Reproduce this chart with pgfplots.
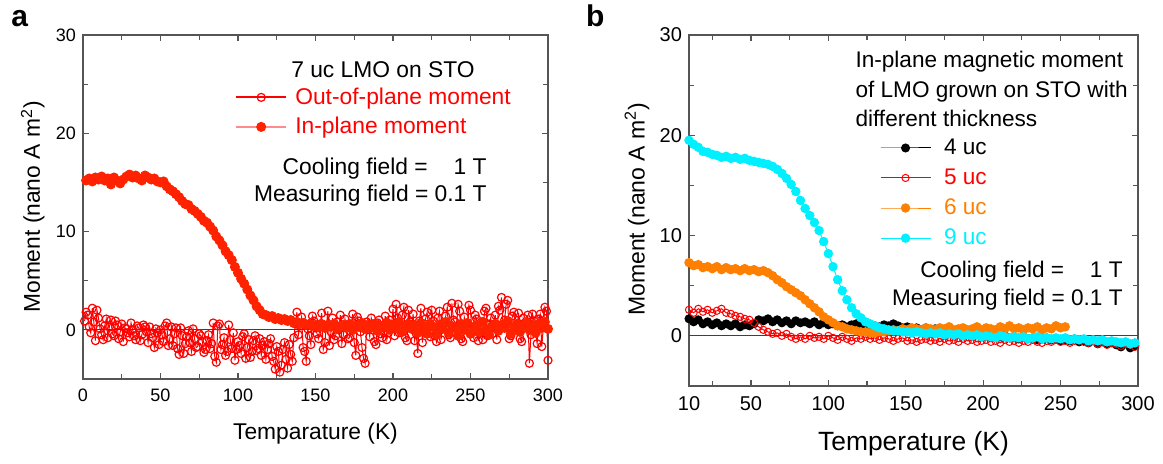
\documentclass[border=0pt]{standalone}
\usepackage{fontspec}
\setmainfont{Liberation Sans}
\usepackage{pgfplots}
\pgfplotsset{compat=1.18}
\definecolor{lred}{RGB}{255,0,0}
\definecolor{fred}{RGB}{255,34,0}
\definecolor{lorange}{RGB}{255,128,0}
\definecolor{lcyan}{RGB}{0,240,255}
\definecolor{axgray}{RGB}{85,85,85}

\pgfplotsset{
 myaxis/.style={
  scale only axis,
  axis line style={axgray, line width=0.9pt},
  tick style={axgray, line width=0.6pt},
  tick align=inside,
  major tick length=3pt,
  minor tick length=2.5pt,
  /pgf/number format/assume math mode=true,
  ymin=-5, ymax=30, ytick={0,10,20,30}, minor ytick={5,15,25},
  xticklabel style={yshift=-1.5pt},
  legend cell align=left,
  legend image code/.code={\draw[mark repeat=2,mark phase=2,##1] plot coordinates {(0cm,0cm) (0.44cm,0cm) (0.88cm,0cm)};},
 }
}

\begin{document}
\begin{tikzpicture}
\path[use as bounding box] (0,0) rectangle (581.5pt,232pt);
\node[anchor=base west, inner sep=0pt, font=\bfseries\fontsize{15}{15}\selectfont] at (5.5pt,218.5pt) {a};
\node[anchor=base west, inner sep=0pt, font=\bfseries\fontsize{15}{15}\selectfont] at (292.8pt,218.5pt) {b};

%%%%%%%%%%%%%%%% Panel a
\begin{axis}[myaxis, at={(41.5pt,42.5pt)}, anchor=south west, width=232.5pt, height=172pt,
 xmin=0, xmax=300, xtick={0,50,...,300}, minor xtick={25,75,...,275},
 ticklabel style={font=\fontsize{9}{10}\selectfont},
 xlabel={Temparature (K)}, ylabel={Moment (nano A m\textsuperscript{2})},
 label style={font=\fontsize{11.4}{13}\selectfont},
 xlabel style={at={(axis description cs:0.5,-0.160)}, anchor=center},
 ylabel style={at={(axis description cs:-0.108,0.5)}, anchor=center},
 legend style={at={(rel axis cs:0.327,0.847)}, anchor=north west, draw=none, fill=none,
   inner sep=0pt, outer sep=0pt, font=\fontsize{11.4}{13}\selectfont,
   row sep=5pt, column sep=4pt, nodes={inner sep=0pt},
   column 2/.style={text height=9.7pt, text depth=1.5pt}},
]
\addplot[lred, draw=lred, line width=0.5pt, mark=o, mark size=2pt, mark options={lred, line width=0.6pt, fill=none},
  legend image post style={line width=1.1pt}]
table {
1 0.9
2 1.8
3 1.5
4 0.3
5 -0.3
6 2.2
7 0.8
8 -1.1
9 2.0
10 1.2
11 0.1
12 -0.5
13 -1.0
14 0.4
15 1.1
16 -0.8
17 0.3
18 1.0
19 -0.4
20 -0.6
21 0.9
22 0.5
23 -0.9
24 -0.2
25 0.6
26 -1.2
27 0.2
28 0.1
29 -0.3
30 -0.7
31 0.7
32 0.0
33 -0.6
34 -1.0
35 0.4
36 0.2
37 -1.1
38 -0.5
39 0.5
40 0.3
41 -0.2
42 -1.3
43 0.3
44 -0.4
45 -0.8
46 -1.8
47 0.1
48 -0.3
49 -1.5
50 0.0
51 -0.5
52 -1.2
53 0.4
54 0.7
55 -1.6
56 -0.9
57 0.3
58 -1.6
59 -0.4
60 0.2
61 -1.9
62 -2.5
63 0.2
64 -0.6
65 -2.4
66 -1.4
67 -0.7
68 -0.1
69 -1.3
70 -2.2
71 0.1
72 -0.9
73 -1.8
74 -1.7
75 -0.4
76 -0.6
77 -1.2
78 -2.3
79 -2.0
80 -1.1
81 -0.5
82 -1.9
83 -1.4
84 0.7
85 -2.7
86 -3.3
87 0.4
88 0.6
89 -2.0
90 -1.5
91 -0.8
92 -2.6
93 -2.2
94 0.5
95 -1.0
96 -1.9
97 -0.3
98 -3.1
99 -2.0
100 -1.2
101 -1.6
102 -2.4
103 -0.7
104 -0.4
105 -2.9
106 -1.8
107 -1.0
108 -2.8
109 -2.2
110 -1.1
111 -0.6
112 -2.1
113 -1.9
114 -0.9
115 -2.6
116 -1.6
117 -1.2
118 -3.0
119 -2.0
120 -1.4
121 -0.9
122 -2.7
123 -3.2
124 -4.0
125 -1.7
126 -2.2
127 -4.3
128 -3.6
129 -2.0
130 -1.3
131 -3.0
132 -3.9
133 -1.5
134 -2.5
135 -3.2
136 -0.8
137 0.6
138 1.8
139 -0.5
140 0.4
141 1.3
142 -1.8
143 -2.2
144 -3.2
145 0.1
146 -0.6
147 -1.5
148 1.4
149 0.9
150 0.2
151 -0.4
152 -0.9
153 0.6
154 1.7
155 -2.0
156 -1.3
157 0.4
158 1.9
159 -1.6
160 -0.2
161 1.2
162 -1.0
163 -0.6
164 0.8
165 0.0
166 1.5
167 -1.4
168 -0.5
169 1.1
170 0.3
171 -0.9
172 -0.8
173 0.5
174 1.6
175 -1.3
176 -2.6
177 1.3
178 0.9
179 -0.2
180 -1.8
181 -2.9
182 -3.4
183 0.8
184 0.5
185 -0.7
186 1.2
187 0.6
188 -1.2
189 -1.5
190 0.7
191 1.0
192 -0.4
193 -0.8
194 0.2
195 1.4
196 -1.0
197 -0.3
198 1.0
199 0.5
200 2.1
201 -0.6
202 2.6
203 1.2
204 -0.3
205 0.1
206 1.5
207 2.3
208 -0.8
209 -1.1
210 2.0
211 0.8
212 0.4
213 1.6
214 -1.1
215 -0.4
216 -2.4
217 0.9
218 2.2
219 -1.3
220 0.6
221 1.1
222 1.8
223 0.2
224 -0.7
225 2.0
226 0.9
227 -0.6
228 -1.2
229 1.2
230 1.9
231 -1.0
232 0.3
233 0.7
234 1.4
235 2.3
236 -0.5
237 -0.8
238 2.7
239 1.0
240 0.8
241 0.3
242 2.6
243 1.9
244 -0.9
245 -1.2
246 1.3
247 0.6
248 0.0
249 2.5
250 2.0
251 -0.3
252 -0.8
253 1.5
254 1.1
255 -1.1
256 0.4
257 0.8
258 -1.0
259 1.9
260 2.2
261 -0.6
262 0.6
263 1.2
264 -0.4
265 0.2
266 1.5
267 -1.0
268 2.4
269 2.0
270 3.3
271 0.5
272 1.0
273 2.6
274 3.0
275 -0.9
276 -0.6
277 1.4
278 1.8
279 0.0
280 0.2
281 1.7
282 -0.9
283 -1.2
284 1.2
285 0.7
286 0.5
287 1.5
288 -3.4
289 -0.5
290 1.6
291 0.9
292 -0.3
293 -1.4
294 1.1
295 1.6
296 -1.7
297 0.3
298 2.3
299 1.9
300 -3.1
};
\addlegendentry{\textcolor{lred}{Out-of-plane moment}}
\addplot[red!45, line width=0.6pt, mark=*, mark size=2.2pt, mark options={fred, fill=fred}]
table {
2 15.2
4 15.4
6 15.1
8 15.5
10 15.3
12 15.6
14 15.2
16 15.4
18 14.8
20 15.5
22 15.2
24 14.9
26 15.3
28 15.6
30 15.8
32 15.5
34 15.7
36 15.4
38 15.2
40 15.7
42 15.5
44 15.3
46 15.4
48 15.1
50 15.0
52 15.1
54 14.6
56 14.3
58 14.1
60 13.8
62 13.5
64 13.1
66 12.8
68 12.7
70 12.3
72 12.1
74 11.8
76 11.5
78 11.1
80 10.9
82 10.5
84 10.1
86 9.5
88 9.1
90 8.6
92 8.0
94 7.6
96 7.1
98 6.4
100 5.8
102 5.2
104 4.7
106 4.1
108 3.5
110 3.0
112 2.4
114 2.0
116 1.6
118 1.5
120 1.3
122 1.4
124 1.1
126 1.2
128 1.0
130 1.1
132 0.9
134 1.0
136 0.7
138 0.8
140 0.6
142 0.7
144 0.5
146 0.6
148 0.4
150 0.5
152 0.3
154 0.6
156 0.2
158 0.5
160 0.3
162 0.6
164 0.1
166 0.4
168 0.5
170 0.2
172 0.6
174 0.0
176 0.4
178 0.3
180 0.7
182 0.1
184 0.5
186 0.2
188 0.6
190 -0.1
192 0.4
194 0.3
196 0.7
198 0.0
200 0.5
202 0.2
204 0.8
206 -0.2
208 0.4
210 0.6
212 0.1
214 0.5
216 -0.3
218 0.7
220 0.2
222 -0.4
224 0.6
226 0.3
228 -0.5
230 0.5
232 0.1
234 0.8
236 -0.3
238 0.4
240 0.2
242 -0.6
244 0.6
246 0.0
248 0.7
250 -0.4
252 0.3
254 0.5
256 -0.2
258 0.8
260 0.1
262 -0.5
264 0.4
266 0.6
268 -0.1
270 0.5
272 0.2
274 0.9
276 -0.4
278 0.3
280 0.6
282 -0.2
284 0.4
286 0.7
288 0.0
290 0.5
292 -0.3
294 0.6
296 0.2
298 0.8
300 0.1
};
\addlegendentry{\textcolor{lred}{In-plane moment}}
\addplot[black!75, line width=0.6pt, forget plot] coordinates {(0,0) (300,0)};
\node[anchor=base, inner sep=0pt, font=\fontsize{11.4}{13}\selectfont] at (rel axis cs:0.645,0.875) {7 uc LMO on STO};
\node[anchor=base east, inner sep=0pt, font=\fontsize{11.4}{13}\selectfont] at (rel axis cs:0.869,0.593) {Cooling field =\hspace{0.86em} 1 T};
\node[anchor=base east, inner sep=0pt, font=\fontsize{11.4}{13}\selectfont] at (rel axis cs:0.869,0.517) {Measuring field = 0.1 T};
\end{axis}

%%%%%%%%%%%%%%%% Panel b
\begin{axis}[myaxis, at={(344.5pt,39pt)}, anchor=south west, width=224.5pt, height=175.5pt,
 xmin=10, xmax=300, xtick={10,50,100,150,200,250,300}, minor xtick={25,75,...,275},
 ticklabel style={font=\fontsize{10}{11}\selectfont},
 xlabel={Temperature (K)}, ylabel={Moment (nano A m\textsuperscript{2})},
 xlabel style={font=\fontsize{13.2}{15}\selectfont, at={(axis description cs:0.5,-0.164)}, anchor=center},
 ylabel style={font=\fontsize{11.5}{13}\selectfont, at={(axis description cs:-0.116,0.504)}, anchor=center},
 legend style={at={(rel axis cs:0.4254,0.7045)}, anchor=north west, draw=none, fill=none,
   inner sep=0pt, outer sep=0pt, font=\fontsize{11.3}{13}\selectfont,
   row sep=5.7pt, column sep=6.5pt, nodes={inner sep=0pt},
   column 2/.style={text height=9.6pt, text depth=1.5pt}},
]
\addplot[black!75, line width=0.6pt, forget plot] coordinates {(10,0) (300,0)};
\addplot[black, line width=0.5pt, mark=*, mark size=2pt]
table {
10 1.7
13 1.4
16 1.6
19 1.2
22 1.4
25 1.1
28 1.3
31 1.0
34 1.2
37 1.0
40 1.2
43 0.9
46 1.1
49 1.0
52 1.2
55 1.6
58 1.5
61 1.7
64 1.4
67 1.6
70 1.3
73 1.5
76 1.2
79 1.5
82 1.3
85 1.4
88 1.2
91 1.4
94 1.1
97 1.3
100 1.1
103 1.2
106 1.0
109 1.1
112 0.9
115 1.1
118 1.2
121 1.0
124 1.1
127 0.9
130 1.0
133 0.9
136 1.1
139 1.0
142 1.2
145 1.0
148 0.8
151 0.9
154 0.7
157 0.8
160 0.6
163 0.8
166 0.6
169 0.7
172 0.5
175 0.6
178 0.4
181 0.5
184 0.3
187 0.4
190 0.3
193 0.2
196 0.3
199 0.1
202 0.2
205 0.0
208 0.1
211 -0.1
214 0.0
217 -0.2
220 -0.1
223 -0.3
226 -0.1
229 -0.3
232 -0.2
235 -0.4
238 -0.3
241 -0.2
244 -0.4
247 -0.3
250 -0.5
253 -0.4
256 -0.5
259 -0.3
262 -0.6
265 -0.5
268 -0.7
271 -0.5
274 -0.8
277 -0.6
280 -0.8
283 -0.7
286 -0.9
289 -1.1
292 -0.8
295 -1.2
298 -1.0
};
\addlegendentry{4 uc}
\addplot[lred, line width=0.5pt, mark=o, mark size=1.8pt, mark options={line width=0.5pt, fill=none}]
table {
10 2.6
13 2.3
16 2.7
19 2.4
22 2.6
25 2.3
28 2.5
31 2.7
34 2.3
37 2.2
40 2.0
43 1.9
46 1.7
49 1.6
52 1.3
55 0.9
58 0.6
61 0.4
64 0.2
67 0.3
70 0.0
73 0.2
76 -0.1
79 -0.3
82 -0.1
85 -0.3
88 0.0
91 -0.2
94 -0.1
97 -0.3
100 0.0
103 -0.2
106 -0.4
109 -0.1
112 -0.3
115 -0.5
118 -0.2
121 -0.3
124 -0.1
127 -0.3
130 -0.2
133 -0.4
136 -0.2
139 -0.3
142 -0.5
145 -0.3
148 -0.2
151 -0.5
154 -0.4
157 -0.6
160 -0.4
163 -0.3
166 -0.5
169 -0.4
172 -0.6
175 -0.3
178 -0.5
181 -0.4
184 -0.6
187 -0.3
190 -0.5
193 -0.4
196 -0.6
199 -0.5
202 -0.4
205 -0.6
208 -0.5
211 -0.7
214 -0.4
217 -0.6
220 -0.5
223 -0.7
226 -0.5
229 -0.6
232 -0.4
235 -0.6
238 -0.7
241 -0.5
244 -0.6
247 -0.4
250 -0.6
253 -0.5
256 -0.7
259 -0.5
262 -0.4
265 -0.6
268 -0.7
271 -0.5
274 -0.8
277 -0.6
280 -0.9
283 -0.7
286 -0.8
289 -1.0
292 -0.8
295 -0.9
298 -1.1
};
\addlegendentry{\textcolor{lred}{5 uc}}
\addplot[lorange, line width=0.5pt, mark=*, mark size=2.1pt]
table {
10 7.3
13 7.0
16 7.1
19 6.8
22 6.9
25 6.7
28 6.9
31 6.6
34 6.8
37 6.6
40 6.7
43 6.5
46 6.7
49 6.5
52 6.6
55 6.4
58 6.5
61 6.3
64 6.0
67 5.6
70 5.3
73 4.9
76 4.6
79 4.3
82 4.0
85 3.6
88 3.2
91 2.8
94 2.4
97 1.9
100 1.6
103 1.3
106 1.0
109 0.9
112 0.7
115 0.6
118 0.5
121 0.4
124 0.4
127 0.3
130 0.3
133 0.4
136 0.4
139 0.5
142 0.6
145 0.5
148 0.7
151 0.6
154 0.8
157 0.7
160 0.6
163 0.8
166 0.7
169 0.6
172 0.8
175 0.7
178 0.9
181 0.6
184 0.7
187 0.8
190 0.6
193 0.7
196 0.9
199 0.6
202 0.8
205 0.7
208 0.6
211 0.9
214 0.7
217 1.0
220 0.7
223 0.8
226 0.6
229 0.8
232 0.7
235 0.9
238 0.6
241 0.8
244 0.7
247 1.0
250 0.8
253 0.9
};
\addlegendentry{\textcolor{lorange}{6 uc}}
\addplot[lcyan, line width=0.5pt, mark=*, mark size=2.1pt]
table {
10 19.5
13 19.1
16 18.8
19 18.4
22 18.3
25 18.1
28 18.0
31 17.8
34 17.9
37 17.7
40 17.8
43 17.6
46 17.7
49 17.5
52 17.4
55 17.3
58 17.2
61 17.1
64 16.9
67 16.6
70 16.2
73 15.7
76 15.1
79 14.4
82 13.5
85 12.7
88 12.0
91 11.3
94 10.5
97 9.4
100 8.2
103 6.9
106 5.6
109 4.5
112 3.6
115 2.8
118 2.2
121 1.8
124 1.4
127 1.2
130 1.0
133 0.8
136 0.7
139 0.6
142 0.5
145 0.5
148 0.4
151 0.4
154 0.3
157 0.4
160 0.3
163 0.2
166 0.3
169 0.2
172 0.3
175 0.1
178 0.2
181 0.1
184 0.2
187 0.0
190 0.1
193 0.0
196 0.1
199 -0.1
202 0.0
205 -0.1
208 -0.2
211 0.0
214 -0.1
217 -0.2
220 -0.1
223 -0.2
226 -0.1
229 -0.3
232 -0.2
235 -0.1
238 -0.3
241 -0.2
244 -0.3
247 -0.2
250 -0.3
253 -0.2
256 -0.4
259 -0.3
262 -0.4
265 -0.3
268 -0.5
271 -0.4
274 -0.5
277 -0.4
280 -0.6
283 -0.5
286 -0.6
289 -0.7
292 -0.6
295 -0.8
298 -0.7
};
\addlegendentry{\textcolor{lcyan}{9 uc}}
\node[anchor=base west, inner sep=0pt, font=\fontsize{11.3}{13}\selectfont] at (rel axis cs:0.370,0.906) {In-plane magnetic moment};
\node[anchor=base west, inner sep=0pt, font=\fontsize{11.3}{13}\selectfont] at (rel axis cs:0.370,0.822) {of LMO grown on STO with};
\node[anchor=base west, inner sep=0pt, font=\fontsize{11.3}{13}\selectfont] at (rel axis cs:0.370,0.738) {different thickness};
\node[anchor=base east, inner sep=0pt, font=\fontsize{11.3}{13}\selectfont] at (rel axis cs:0.9666,0.3077) {Cooling field =\hspace{0.86em} 1 T};
\node[anchor=base east, inner sep=0pt, font=\fontsize{11.3}{13}\selectfont] at (rel axis cs:0.9666,0.228) {Measuring field = 0.1 T};
\end{axis}
\end{tikzpicture}
\end{document}
